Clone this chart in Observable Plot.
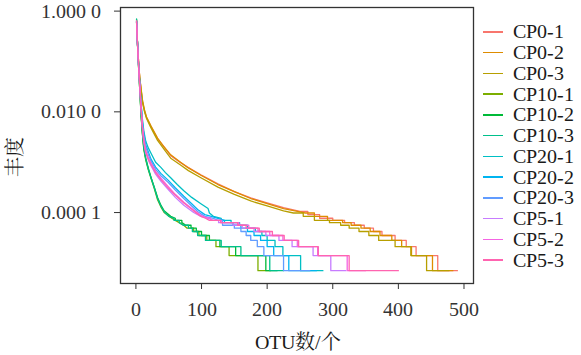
<!DOCTYPE html>
<html><head><meta charset="utf-8">
<script src="https://cdn.jsdelivr.net/npm/d3@7"></script>
<script src="https://cdn.jsdelivr.net/npm/@observablehq/plot@0.6"></script>
<style>
@font-face { font-family: 'RefSerif'; src: local('Liberation Serif'), local('LiberationSerif'), local('LiberationSerif-Regular'), local('Times New Roman'), local('DejaVu Serif'); }
body { margin: 0; background: #fff; }
#wrap { position: relative; width: 581px; height: 355px; font-family: 'RefSerif', 'Liberation Serif', 'Times New Roman', 'DejaVu Serif', 'Noto Serif CJK SC', serif; }
#chart { position: absolute; left: 0; top: 0; }
#legend { position: absolute; left: 483px; top: 21.6px; }
.row { display: flex; align-items: center; height: 20.75px; font-size: 20px; color: #1a1a1a; white-space: nowrap; font-family: 'RefSerif', 'Liberation Serif', 'Times New Roman', 'DejaVu Serif', serif; }
.key { display: inline-block; width: 20px; height: 1.5px; margin-right: 10px; }
#ytitle { position: absolute; left: 13px; top: 157px; transform: translate(-50%,-50%) rotate(-90deg); font-size: 20px; color: #1a1a1a; white-space: nowrap; font-family: 'Noto Serif CJK SC', 'Noto Sans CJK SC', serif; }
#xtitle { position: absolute; left: 298px; top: 340px; transform: translate(-50%,-50%); font-size: 20px; color: #1a1a1a; white-space: nowrap; }
#xtitle .cjk { font-family: 'Noto Serif CJK SC', 'Noto Sans CJK SC', serif; }
</style></head>
<body>
<div id="wrap">
  <div id="chart"></div>
  <div id="legend"></div>
  <div id="ytitle">丰度</div>
  <div id="xtitle">OTU<span class="cjk">数</span>/<span class="cjk">个</span></div>
</div>
<script>
const samples = ["CP0-1","CP0-2","CP0-3","CP10-1","CP10-2","CP10-3","CP20-1","CP20-2","CP20-3","CP5-1","CP5-2","CP5-3"];
const colors = ["#F8766D","#DE8C00","#B79F00","#7CAE00","#00BA38","#00C08B","#00BFC4","#00B4F0","#619CFF","#C77CFF","#F564E3","#FF64B0"];
const xTicks = [0,100,200,300,400,500];
const yTicks = [1, 0.01, 0.0001];

// [OTU rank, relative abundance]
const CP0_1 = [[1,0.62],[2,0.3],[3,0.17],[4,0.1],[5,0.065],[6,0.045],[8,0.027],[10,0.016],[13,0.0105],[16,0.0078],[23,0.0051],[33,0.0029],[43,0.002],[53,0.00135],[68,0.00098],[80,0.00078],[99,0.00056],[125,0.00037],[150,0.00026],[175,0.000195],[200,0.000155],[225,0.000125],[250,0.000106],[262,1.05e-4],[262,9.1e-5],[280,9.1e-5],[280,7.7e-5],[300,7.7e-5],[300,7.0e-5],[318,7.0e-5],[318,6.3e-5],[333,6.3e-5],[333,5.6e-5],[348,5.6e-5],[348,4.9e-5],[362,4.9e-5],[362,4.2e-5],[375,4.2e-5],[375,3.5e-5],[395,3.5e-5],[395,2.8e-5],[412,2.8e-5],[412,2.1e-5],[427,2.1e-5],[427,1.4e-5],[460,1.4e-5],[460,7.0e-6],[490,7.0e-6]];
const CP0_2 = [[1,0.6],[2,0.29],[3,0.16],[4,0.1],[5,0.066],[6,0.046],[8,0.028],[10,0.017],[13,0.011],[16,0.008],[23,0.0052],[33,0.003],[43,0.002],[53,0.0014],[68,0.001],[80,0.00077],[99,0.00055],[125,0.00036],[150,0.00026],[175,0.00019],[200,0.00015],[225,0.00012],[250,0.000103],[258,9.8e-5],[272,9.8e-5],[272,8.4e-5],[292,8.4e-5],[292,7.0e-5],[315,7.0e-5],[315,6.3e-5],[328,6.3e-5],[328,5.6e-5],[343,5.6e-5],[343,4.9e-5],[357,4.9e-5],[357,4.2e-5],[372,4.2e-5],[372,3.5e-5],[390,3.5e-5],[390,2.8e-5],[405,2.8e-5],[405,2.1e-5],[420,2.1e-5],[420,1.4e-5],[452,1.4e-5],[452,7.0e-6],[483,7.0e-6]];
const CP0_3 = [[1,0.61],[2,0.29],[3,0.165],[4,0.1],[5,0.064],[6,0.044],[8,0.026],[10,0.0155],[13,0.0102],[16,0.0075],[23,0.0048],[33,0.0027],[43,0.0018],[53,0.0012],[68,0.00088],[80,0.00068],[99,0.00049],[125,0.00032],[150,0.00023],[175,0.00017],[200,0.000135],[225,0.000108],[240,9.8e-5],[255,9.8e-5],[255,8.4e-5],[272,8.4e-5],[272,7.0e-5],[295,7.0e-5],[295,6.3e-5],[312,6.3e-5],[312,5.6e-5],[325,5.6e-5],[325,4.9e-5],[340,4.9e-5],[340,4.2e-5],[355,4.2e-5],[355,3.5e-5],[370,3.5e-5],[370,2.8e-5],[395,2.8e-5],[395,2.1e-5],[419,2.1e-5],[419,1.4e-5],[443,1.4e-5],[443,7.0e-6],[477,7.0e-6]];
const CP10_1 = [[1,0.68],[2,0.3],[3,0.15],[4,0.08],[5,0.045],[6,0.025],[7,0.014],[8,0.008],[10,0.0035],[12,0.0018],[15,0.0011],[19,0.0007],[23,0.00048],[28,0.0003],[33,0.00018],[38,0.00013],[43,0.0001],[53,8.0e-5],[60,7.0e-5],[66,6.3e-5],[73,5.6e-5],[78,4.9e-5],[88,4.9e-5],[88,4.2e-5],[96,4.2e-5],[96,3.5e-5],[108,3.5e-5],[108,2.8e-5],[122,2.8e-5],[122,2.1e-5],[142,2.1e-5],[142,1.4e-5],[186,1.4e-5],[186,7.0e-6],[205,7.0e-6]];
const CP10_2 = [[1,0.65],[2,0.29],[3,0.15],[4,0.08],[5,0.046],[6,0.026],[7,0.015],[8,0.0085],[10,0.0038],[12,0.002],[15,0.0012],[19,0.00075],[23,0.0005],[28,0.00032],[33,0.0002],[38,0.00014],[43,0.000108],[53,8.4e-5],[60,7.7e-5],[60,7.0e-5],[70,7.0e-5],[70,6.3e-5],[76,5.6e-5],[84,5.6e-5],[84,4.9e-5],[92,4.9e-5],[92,4.2e-5],[100,4.2e-5],[100,3.5e-5],[112,3.5e-5],[112,2.8e-5],[128,2.8e-5],[128,2.1e-5],[152,2.1e-5],[152,1.4e-5],[198,1.4e-5],[198,7.0e-6],[215,7.0e-6]];
const CP10_3 = [[1,0.7],[2,0.31],[3,0.155],[4,0.082],[5,0.046],[6,0.026],[7,0.0145],[8,0.0082],[10,0.0036],[12,0.0019],[15,0.00115],[19,0.00072],[23,0.00049],[28,0.00031],[33,0.00019],[38,0.000135],[43,0.000104],[50,8.4e-5],[58,7.7e-5],[58,7.0e-5],[66,7.0e-5],[66,6.3e-5],[72,5.6e-5],[80,5.6e-5],[80,4.9e-5],[86,4.9e-5],[86,4.2e-5],[94,4.2e-5],[94,3.5e-5],[106,3.5e-5],[106,2.8e-5],[130,2.8e-5],[130,2.1e-5],[160,2.1e-5],[160,1.4e-5],[204,1.4e-5],[204,7.0e-6],[225,7.0e-6]];
const CP20_1 = [[1,0.63],[2,0.3],[3,0.16],[4,0.09],[5,0.055],[6,0.035],[7,0.022],[8,0.014],[10,0.007],[12,0.0042],[15,0.0026],[19,0.0019],[23,0.0015],[30,0.001],[38,0.00079],[45,0.00062],[53,0.00049],[63,0.00036],[73,0.00027],[85,0.0002],[99,0.00015],[110,0.00012],[112,9.8e-5],[118,8.4e-5],[130,7.7e-5],[130,7.0e-5],[145,7.0e-5],[145,6.3e-5],[158,6.3e-5],[158,5.6e-5],[170,5.6e-5],[170,4.9e-5],[182,4.9e-5],[182,4.2e-5],[192,4.2e-5],[192,3.5e-5],[200,3.5e-5],[200,2.8e-5],[212,2.8e-5],[212,2.1e-5],[224,2.1e-5],[224,1.4e-5],[251,1.4e-5],[251,7.0e-6],[285,7.0e-6]];
const CP20_2 = [[1,0.62],[2,0.29],[3,0.16],[4,0.09],[5,0.055],[6,0.034],[7,0.021],[8,0.013],[10,0.006],[12,0.0036],[15,0.0022],[19,0.0016],[23,0.00115],[30,0.0008],[38,0.0006],[49,0.00044],[60,0.00031],[73,0.00021],[85,0.00015],[94,0.000115],[105,9.1e-5],[115,8.4e-5],[125,7.7e-5],[135,7.0e-5],[135,6.3e-5],[148,6.3e-5],[148,5.6e-5],[160,5.6e-5],[160,4.9e-5],[170,4.9e-5],[170,4.2e-5],[180,4.2e-5],[180,3.5e-5],[190,3.5e-5],[190,2.8e-5],[200,2.8e-5],[200,2.1e-5],[210,2.1e-5],[210,1.4e-5],[233,1.4e-5],[233,7.0e-6],[275,7.0e-6]];
const CP20_3 = [[1,0.62],[2,0.29],[3,0.16],[4,0.088],[5,0.053],[6,0.033],[7,0.02],[8,0.012],[10,0.0058],[12,0.0034],[15,0.002],[19,0.0014],[23,0.00105],[30,0.00072],[38,0.00054],[49,0.0004],[60,0.00028],[73,0.00019],[85,0.000135],[94,0.000105],[105,8.4e-5],[118,7.7e-5],[125,7.0e-5],[132,7.0e-5],[132,5.6e-5],[150,5.6e-5],[150,4.9e-5],[160,4.9e-5],[160,4.2e-5],[168,4.2e-5],[168,3.5e-5],[175,3.5e-5],[175,2.8e-5],[185,2.8e-5],[185,2.1e-5],[195,2.1e-5],[195,1.4e-5],[225,1.4e-5],[225,7.0e-6],[265,7.0e-6]];
const CP5_1 = [[1,0.6],[2,0.28],[3,0.15],[4,0.085],[5,0.05],[6,0.03],[7,0.018],[8,0.011],[10,0.0046],[12,0.0025],[15,0.0015],[19,0.0011],[23,0.00085],[30,0.00058],[38,0.00042],[49,0.00029],[60,0.0002],[73,0.00014],[88,0.0001],[99,8.4e-5],[110,7.7e-5],[118,7.0e-5],[126,7.0e-5],[126,6.3e-5],[148,6.3e-5],[148,5.6e-5],[162,5.6e-5],[162,4.9e-5],[180,4.9e-5],[180,4.2e-5],[198,4.2e-5],[198,3.5e-5],[218,3.5e-5],[218,2.8e-5],[238,2.8e-5],[238,2.1e-5],[270,2.1e-5],[270,1.4e-5],[297,1.4e-5],[297,7.0e-6],[320,7.0e-6]];
const CP5_2 = [[1,0.63],[2,0.29],[3,0.155],[4,0.087],[5,0.051],[6,0.031],[7,0.019],[8,0.0115],[10,0.005],[12,0.0028],[15,0.0017],[19,0.0012],[23,0.00095],[30,0.00066],[38,0.00048],[49,0.00033],[60,0.00023],[73,0.00016],[88,0.000112],[99,8.8e-5],[106,8.0e-5],[114,7.7e-5],[114,7.0e-5],[130,7.0e-5],[130,6.3e-5],[157,6.3e-5],[157,5.6e-5],[172,5.6e-5],[172,4.9e-5],[186,4.9e-5],[186,4.2e-5],[204,4.2e-5],[204,3.5e-5],[224,3.5e-5],[224,2.8e-5],[246,2.8e-5],[246,2.1e-5],[277,2.1e-5],[277,1.4e-5],[322,1.4e-5],[322,7.0e-6],[350,7.0e-6]];
const CP5_3 = [[1,0.64],[2,0.29],[3,0.155],[4,0.087],[5,0.05],[6,0.03],[7,0.018],[8,0.011],[10,0.0047],[12,0.0026],[15,0.0016],[19,0.00115],[23,0.0009],[30,0.00062],[38,0.00045],[49,0.00031],[60,0.00022],[73,0.000155],[88,0.000108],[99,8.4e-5],[106,7.7e-5],[112,7.0e-5],[129,7.0e-5],[129,6.3e-5],[155,6.3e-5],[155,5.6e-5],[168,5.6e-5],[168,4.9e-5],[188,4.9e-5],[188,4.2e-5],[208,4.2e-5],[208,3.5e-5],[226,3.5e-5],[226,2.8e-5],[248,2.8e-5],[248,2.1e-5],[278,2.1e-5],[278,1.4e-5],[325,1.4e-5],[325,7.0e-6],[400,7.0e-6]];

const seriesList = [CP0_1,CP0_2,CP0_3,CP10_1,CP10_2,CP10_3,CP20_1,CP20_2,CP20_3,CP5_1,CP5_2,CP5_3];
const data = samples.flatMap((s, i) => seriesList[i].map(([rank, abund]) => ({sample: s, rank, abund})));
const fmtY = d => { const s = d.toFixed(4); return s.slice(0, -1) + " " + s.slice(-1); };
const serifStack = "'RefSerif', 'Liberation Serif', 'Times New Roman', 'DejaVu Serif', serif";

const chart = Plot.plot({
  width: 581, height: 355,
  marginLeft: 120, marginRight: 108, marginTop: 7, marginBottom: 72,
  style: {fontFamily: serifStack, fontSize: "20px", color: "#333", background: "transparent"},
  x: {domain: [-23.5, 514.5]},
  y: {type: "log", domain: [3.9e-6, 1.18]},
  color: {domain: samples, range: colors},
  marks: [
    Plot.line(data, {x: "rank", y: "abund", z: "sample", stroke: "sample", strokeWidth: 1.3}),
    Plot.frame({stroke: "#333", strokeWidth: 1.3}),
    Plot.axisX({ticks: xTicks, tickSize: 6, tickPadding: 12, label: null, stroke: "#333", fill: "#333", fontFamily: serifStack, fontSize: 20}),
    Plot.axisY({ticks: yTicks, tickSize: 6, tickPadding: 14, tickFormat: fmtY, label: null, stroke: "#333", fill: "#333", fontFamily: serifStack, fontSize: 20})
  ]
});
document.getElementById("chart").appendChild(chart);

const legend = document.getElementById("legend");
samples.forEach((s, i) => {
  const row = document.createElement("div");
  row.className = "row";
  row.style.fontFamily = serifStack;
  const key = document.createElement("span");
  key.className = "key";
  key.style.background = colors[i];
  const lab = document.createElement("span");
  lab.textContent = s;
  lab.style.fontFamily = serifStack;
  row.appendChild(key); row.appendChild(lab);
  legend.appendChild(row);
});
</script>
</body></html>
